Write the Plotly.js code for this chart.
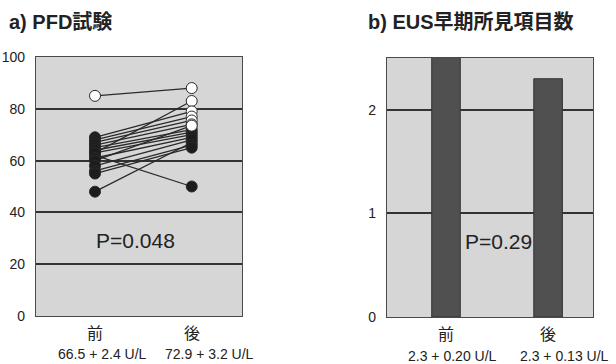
<!DOCTYPE html>
<html>
<head>
<meta charset="utf-8">
<script src="https://cdn.plot.ly/plotly-3.0.1.min.js"></script>
<style>
  html, body { margin: 0; padding: 0; background: #ffffff; }
  #chart { width: 616px; height: 364px; }
</style>
</head>
<body>
<div id="chart"></div>
<script>
// ---- a) PFD test: paired values per subject (before / after) ----
const pfdBefore = [85, 48, 62, 63, 69, 68, 67, 66, 65, 64, 63, 61, 60, 58, 56, 55];
const pfdAfter  = [88, 67, 50, 83, 79, 77, 75.5, 74, 72, 71, 70, 69, 73.5, 68, 66, 65];
const pfdNormalMin = 73;          // values at or above this are drawn as open circles
const pfdPhases = ['前', '後'];
const pfdStats = ['66.5 + 2.4 U/L', '72.9 + 3.2 U/L'];
const pfdP = 'P=0.048';
const pfdTicks = [0, 20, 40, 60, 80, 100];

// ---- b) EUS early findings count ----
const eusPhases = ['前', '後'];
const eusMeans = [2.6, 2.3];
const eusStats = ['2.3 + 0.20 U/L', '2.3 + 0.13 U/L'];
const eusP = 'P=0.29';
const eusTicks = [0, 1, 2];

const W = 616, H = 364;
const px = v => v / W;
const py = v => 1 - v / H;

const FONT = '"Liberation Sans", Arial, "Noto Sans CJK JP", sans-serif';
const INK = '#222222';
const PANEL_BG = '#d6d6d6';

// connecting lines, one segment per subject
const lx = [], ly = [];
pfdBefore.forEach((b, i) => {
  lx.push(0, 1, null);
  ly.push(b, pfdAfter[i], null);
});

const markerFor = vals => ({
  size: 11,
  color: vals.map(v => v >= pfdNormalMin ? '#ffffff' : '#1c1c1c'),
  line: { color: '#2a2a2a', width: 1 }
});

const traces = [
  {
    x: lx, y: ly, xaxis: 'x', yaxis: 'y',
    type: 'scatter', mode: 'lines',
    line: { color: '#2a2a2a', width: 1.3 },
    hoverinfo: 'skip', showlegend: false
  },
  {
    x: pfdBefore.map(() => 0), y: pfdBefore, xaxis: 'x', yaxis: 'y',
    type: 'scatter', mode: 'markers', marker: markerFor(pfdBefore),
    showlegend: false
  },
  {
    x: pfdAfter.map(() => 1), y: pfdAfter, xaxis: 'x', yaxis: 'y',
    type: 'scatter', mode: 'markers', marker: markerFor(pfdAfter),
    showlegend: false
  },
  {
    x: eusMeans.map((_, i) => i), y: eusMeans, xaxis: 'x2', yaxis: 'y2',
    type: 'bar', width: 0.28,
    marker: { color: '#505050', line: { color: '#333333', width: 1 } },
    showlegend: false
  }
];

const axisY = {
  showline: true, mirror: true, linecolor: '#4a4a4a', linewidth: 1.2,
  showgrid: true, gridcolor: '#333333', gridwidth: 2,
  zeroline: false, ticks: '', ticklabelstandoff: 7,
  tickfont: { family: FONT, size: 14, color: INK }
};
const axisX = {
  showline: true, mirror: true, linecolor: '#4a4a4a', linewidth: 1.2,
  showgrid: false, zeroline: false, showticklabels: false, ticks: ''
};

const annotations = [];
const addText = (text, xref, x, y, opts) => annotations.push(Object.assign({
  text, xref, x, yref: 'paper', y, showarrow: false,
  xanchor: 'center', yanchor: 'middle',
  font: { family: FONT, size: 14, color: INK }
}, opts || {}));

// panel titles
addText('<b>a) PFD試験</b>', 'paper', px(7), py(22), { xanchor: 'left', font: { family: FONT, size: 20, color: INK } });
addText('<b>b) EUS早期所見項目数</b>', 'paper', px(366), py(22), { xanchor: 'left', font: { family: FONT, size: 20, color: INK } });

// category labels and summary statistics under each panel
pfdPhases.forEach((t, i) => addText(t, 'x', i, py(333), { font: { family: FONT, size: 16, color: INK } }));
pfdStats.forEach((t, i) => addText(t, 'x', i, py(354), { xshift: i === 0 ? 7 : 18, font: { family: FONT, size: 14, color: INK } }));
eusPhases.forEach((t, i) => addText(t, 'x2', i, py(334), { font: { family: FONT, size: 16, color: INK } }));
eusStats.forEach((t, i) => addText(t, 'x2', i, py(356), { xshift: i === 0 ? 6 : 16, font: { family: FONT, size: 14, color: INK } }));

// p-values inside the panels
annotations.push({
  text: pfdP, xref: 'x', yref: 'y', x: 0.42, y: 29.3, showarrow: false,
  font: { family: FONT, size: 21, color: INK }
});
annotations.push({
  text: eusP, xref: 'x2', yref: 'y2', x: 0.51, y: 0.73, showarrow: false,
  font: { family: FONT, size: 21, color: INK }
});

const layout = {
  width: W, height: H,
  margin: { l: 0, r: 0, t: 0, b: 0 },
  paper_bgcolor: '#ffffff',
  plot_bgcolor: PANEL_BG,
  showlegend: false,
  xaxis: Object.assign({}, axisX, { domain: [px(36), px(242)], range: [-0.61, 1.52] }),
  yaxis: Object.assign({}, axisY, { domain: [py(316), py(57)], range: [0, 100], tickvals: pfdTicks }),
  xaxis2: Object.assign({}, axisX, { domain: [px(387), px(593)], range: [-0.578, 1.44], anchor: 'y2' }),
  yaxis2: Object.assign({}, axisY, { domain: [py(317), py(58)], range: [0, 2.5], tickvals: eusTicks, anchor: 'x2' }),
  annotations
};

Plotly.newPlot('chart', traces, layout, { displayModeBar: false, staticPlot: true });
</script>
</body>
</html>
